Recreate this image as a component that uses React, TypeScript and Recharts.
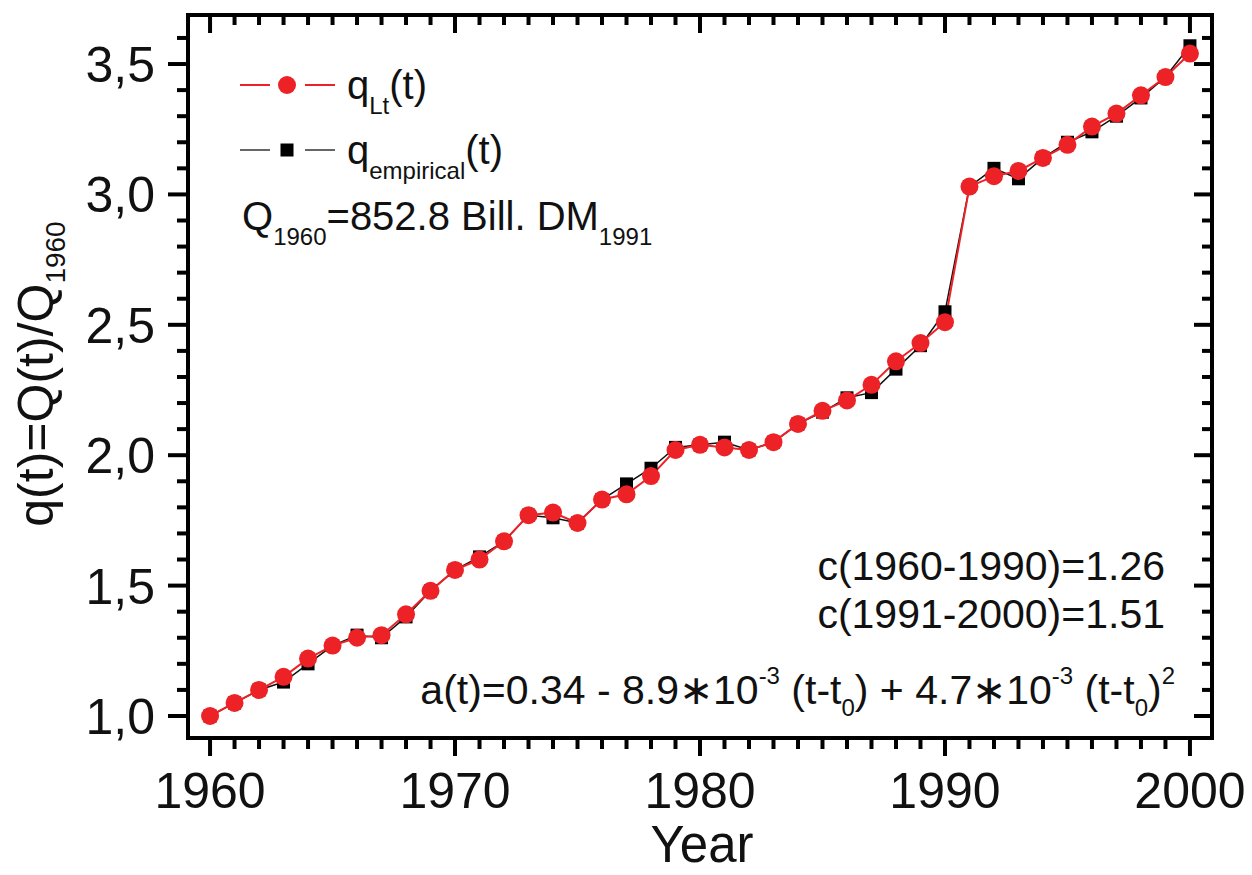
import { LineChart, Line, XAxis, YAxis } from 'recharts';

const years = [
  1960, 1961, 1962, 1963, 1964, 1965, 1966, 1967, 1968, 1969,
  1970, 1971, 1972, 1973, 1974, 1975, 1976, 1977, 1978, 1979,
  1980, 1981, 1982, 1983, 1984, 1985, 1986, 1987, 1988, 1989,
  1990, 1991, 1992, 1993, 1994, 1995, 1996, 1997, 1998, 1999,
  2000,
];

// q_Lt(t) - model (red circles)
const qLt = [
  1.0, 1.05, 1.1, 1.15, 1.22, 1.27, 1.3, 1.31, 1.39, 1.48,
  1.56, 1.6, 1.67, 1.77, 1.78, 1.74, 1.83, 1.85, 1.92, 2.02,
  2.04, 2.03, 2.02, 2.05, 2.12, 2.17, 2.21, 2.27, 2.36, 2.43,
  2.51, 3.03, 3.07, 3.09, 3.14, 3.19, 3.26, 3.31, 3.38, 3.45,
  3.54,
];

// q_empirical(t) (black squares)
const qEmpirical = [
  1.0, 1.05, 1.1, 1.13, 1.2, 1.27, 1.31, 1.3, 1.38, 1.48,
  1.56, 1.61, 1.67, 1.77, 1.76, 1.74, 1.83, 1.89, 1.95, 2.03,
  2.04, 2.05, 2.02, 2.05, 2.12, 2.165, 2.22, 2.24, 2.33, 2.42,
  2.55, 3.03, 3.1, 3.06, 3.14, 3.2, 3.24, 3.3, 3.37, 3.45,
  3.57,
];

const xMajorTicks = [1960, 1970, 1980, 1990, 2000];
const yMajorTicks = [1.0, 1.5, 2.0, 2.5, 3.0, 3.5];
const yAllTicks = [
  1.0, 1.1, 1.2, 1.3, 1.4, 1.5, 1.6, 1.7, 1.8, 1.9,
  2.0, 2.1, 2.2, 2.3, 2.4, 2.5, 2.6, 2.7, 2.8, 2.9,
  3.0, 3.1, 3.2, 3.3, 3.4, 3.5, 3.6,
];

const data = years.map((year, i) => ({ year, lt: qLt[i], emp: qEmpirical[i] }));

const RED = '#ec2227';
const FONT = '"Liberation Sans", Arial, sans-serif';
const X_DOMAIN = [1959.1, 2000.9];
const Y_DOMAIN = [0.9156, 3.688];

const frame = { stroke: '#000', strokeWidth: 4, strokeLinecap: 'square' as const };

const isMajor = (list: number[], v: number) => list.some((m) => Math.abs(m - v) < 1e-6);

function BottomTick(props: any) {
  const { x, y, payload } = props;
  const major = isMajor(xMajorTicks, payload.value);
  return (
    <g>
      <line x1={x} y1={y} x2={x} y2={y + (major ? 18 : 11)} stroke="#000" strokeWidth={4} />
      {major && (
        <text x={x} y={y + 70} textAnchor="middle" fontSize={50} fontFamily={FONT} fill="#111">
          {payload.value}
        </text>
      )}
    </g>
  );
}

function TopTick(props: any) {
  const { x, y, payload } = props;
  const major = isMajor(xMajorTicks, payload.value);
  return <line x1={x} y1={y} x2={x} y2={y + (major ? 18 : 10)} stroke="#000" strokeWidth={4} />;
}

function LeftTick(props: any) {
  const { x, y, payload } = props;
  const major = isMajor(yMajorTicks, payload.value);
  return (
    <g>
      <line x1={x} y1={y} x2={x - (major ? 20 : 11)} y2={y} stroke="#000" strokeWidth={4} />
      {major && (
        <text x={x - 33} y={y + 18} textAnchor="end" fontSize={50} fontFamily={FONT} fill="#111">
          {payload.value.toFixed(1).replace('.', ',')}
        </text>
      )}
    </g>
  );
}

function RightTick(props: any) {
  const { x, y, payload } = props;
  const major = isMajor(yMajorTicks, payload.value);
  return <line x1={x} y1={y} x2={x - (major ? 18 : 10)} y2={y} stroke="#000" strokeWidth={4} />;
}

function SquareDot(props: any) {
  const { cx, cy, index } = props;
  if (cx == null || cy == null) return <g key={index} />;
  return <rect key={index} x={cx - 6.5} y={cy - 6.5} width={13} height={13} fill="#000" />;
}

function Overlay() {
  return (
    <svg
      width={1252}
      height={875}
      style={{ position: 'absolute', left: 0, top: 0, pointerEvents: 'none' }}
      fontFamily={FONT}
      fill="#111"
    >
      {/* legend */}
      <line x1={240} y1={85} x2={270} y2={85} stroke={RED} strokeWidth={2} />
      <circle cx={287} cy={85} r={9} fill={RED} />
      <line x1={305} y1={85} x2={335} y2={85} stroke={RED} strokeWidth={2} />
      <text x={347} y={99} fontSize={40}>
        q<tspan fontSize={24} dy={15}>Lt</tspan>
        <tspan fontSize={40} dy={-15}>(t)</tspan>
      </text>

      <line x1={240} y1={150} x2={270} y2={150} stroke="#333" strokeWidth={1.5} />
      <rect x={280.5} y={143.5} width={13} height={13} fill="#000" />
      <line x1={305} y1={150} x2={335} y2={150} stroke="#333" strokeWidth={1.5} />
      <text x={347} y={164} fontSize={40}>
        q<tspan fontSize={24} dy={15}>empirical</tspan>
        <tspan fontSize={40} dy={-15}>(t)</tspan>
      </text>

      <text x={242} y={230} fontSize={40}>
        Q<tspan fontSize={24} dy={15}>1960</tspan>
        <tspan fontSize={40} dy={-15}>=852.8 Bill. DM</tspan>
        <tspan fontSize={24} dy={15}>1991</tspan>
      </text>

      {/* annotations */}
      <text x={1165} y={580} fontSize={41} textAnchor="end">c(1960-1990)=1.26</text>
      <text x={1165} y={628} fontSize={41} textAnchor="end">c(1991-2000)=1.51</text>
      <text x={1175} y={704} fontSize={41} textAnchor="end">
        a(t)=0.34 - 8.9∗10<tspan fontSize={24} dy={-20}>-3</tspan>
        <tspan fontSize={41} dy={20}> (t-t</tspan>
        <tspan fontSize={24} dy={12}>0</tspan>
        <tspan fontSize={41} dy={-12}>) + 4.7∗10</tspan>
        <tspan fontSize={24} dy={-20}>-3</tspan>
        <tspan fontSize={41} dy={20}> (t-t</tspan>
        <tspan fontSize={24} dy={12}>0</tspan>
        <tspan fontSize={41} dy={-12}>)</tspan>
        <tspan fontSize={24} dy={-20}>2</tspan>
      </text>

      {/* axis titles */}
      <text x={702} y={862} fontSize={51} textAnchor="middle">Year</text>
      <text x={53} y={374} fontSize={50} textAnchor="middle" transform="rotate(-90, 53, 374)">
        q(t)=Q(t)/Q<tspan fontSize={28} dy={12}>1960</tspan>
      </text>
    </svg>
  );
}

export default function App() {
  return (
    <div style={{ position: 'absolute', left: 0, top: 0, width: 1252, height: 875, background: '#fff' }}>
      <LineChart width={1252} height={875} data={data} margin={{ top: 14, right: 39, bottom: 0, left: 0 }}>
        <XAxis
          xAxisId="b"
          dataKey="year"
          type="number"
          domain={X_DOMAIN}
          allowDataOverflow
          ticks={years}
          interval={0}
          height={137}
          tickSize={0}
          tickMargin={0}
          axisLine={frame}
          tickLine={false}
          tick={<BottomTick />}
        />
        <XAxis
          xAxisId="t"
          orientation="top"
          dataKey="year"
          type="number"
          domain={X_DOMAIN}
          allowDataOverflow
          ticks={years}
          interval={0}
          height={1}
          tickSize={0}
          tickMargin={0}
          axisLine={frame}
          tickLine={false}
          tick={<TopTick />}
        />
        <YAxis
          yAxisId="l"
          type="number"
          domain={Y_DOMAIN}
          allowDataOverflow
          ticks={yAllTicks}
          interval={0}
          width={188}
          tickSize={0}
          tickMargin={0}
          axisLine={frame}
          tickLine={false}
          tick={<LeftTick />}
        />
        <YAxis
          yAxisId="r"
          orientation="right"
          type="number"
          domain={Y_DOMAIN}
          allowDataOverflow
          ticks={yAllTicks}
          interval={0}
          width={1}
          tickSize={0}
          tickMargin={0}
          axisLine={frame}
          tickLine={false}
          tick={<RightTick />}
        />
        <Line
          xAxisId="b"
          yAxisId="l"
          type="linear"
          dataKey="emp"
          stroke="#111"
          strokeWidth={1.5}
          dot={<SquareDot />}
          activeDot={false}
          isAnimationActive={false}
        />
        <Line
          xAxisId="b"
          yAxisId="l"
          type="linear"
          dataKey="lt"
          stroke={RED}
          strokeWidth={2}
          dot={{ r: 9, fill: RED, stroke: 'none' }}
          activeDot={false}
          isAnimationActive={false}
        />
      </LineChart>
      <Overlay />
    </div>
  );
}
